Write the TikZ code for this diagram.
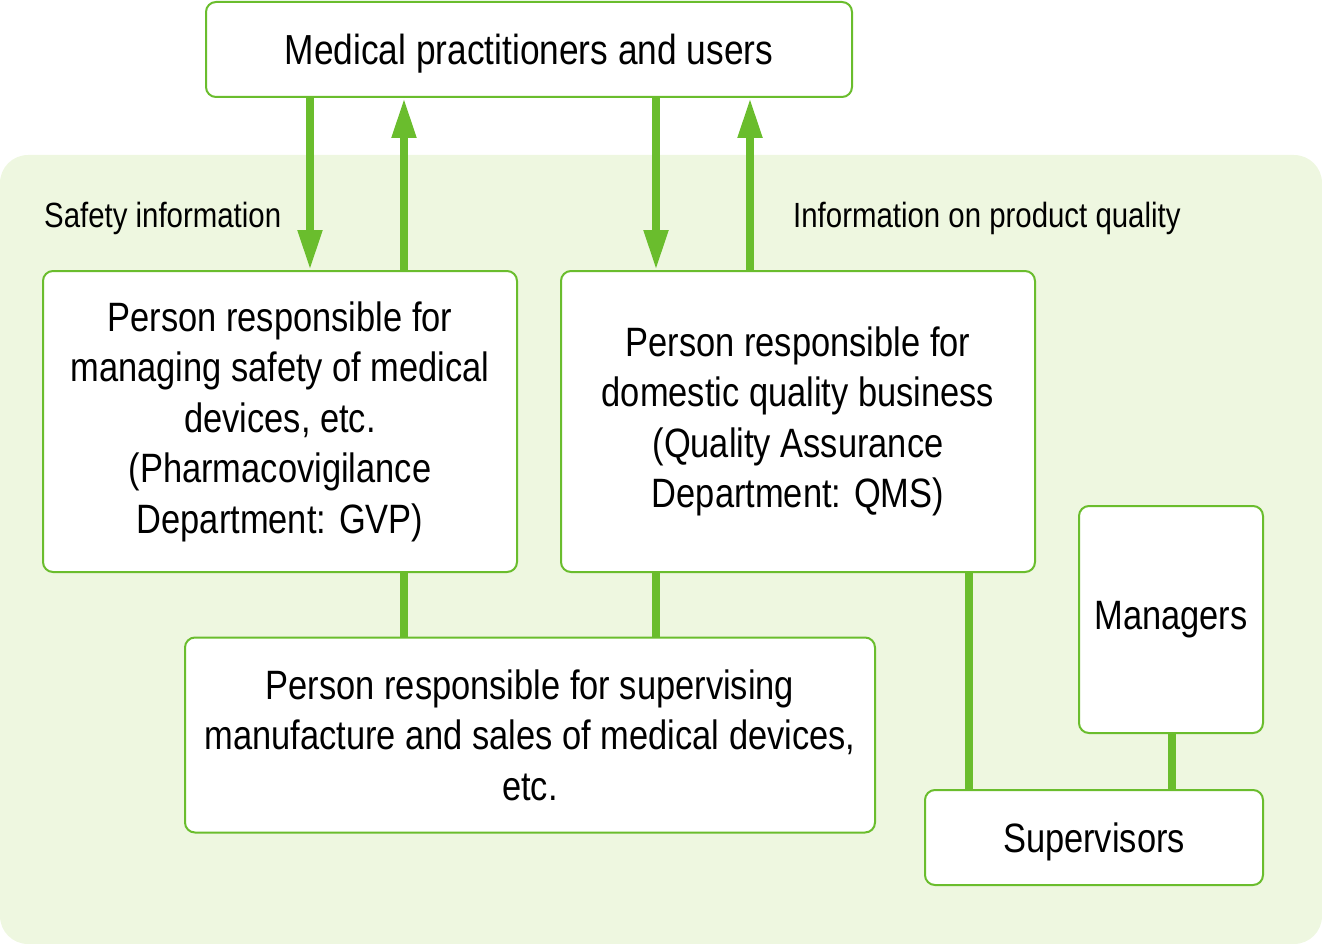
\documentclass[tikz,border=0pt]{standalone}
\usepackage{fontspec}
\setmainfont[FakeStretch=0.84]{Liberation Sans}
\usetikzlibrary{arrows.meta}
\definecolor{gr}{HTML}{6ABD2D}
\definecolor{bg}{HTML}{EEF7E0}
\tikzset{
  box/.style={draw=gr, line width=2pt, fill=white, rounded corners=10pt, align=center, inner sep=0pt,
    font=\fontsize{41}{50.5}\selectfont},
  lbl/.style={anchor=base west, inner sep=0pt, font=\fontsize{35}{40}\selectfont},
  arr/.style={draw=gr, line width=8pt, -{Triangle[length=40pt,width=23pt]}},
  conn/.style={draw=gr, line width=8pt}
}
\begin{document}
\begin{tikzpicture}[x=1pt,y=-1pt]
\useasboundingbox (0,0) rectangle (1322,944);
\fill[bg, rounded corners=28pt] (0,155) rectangle (1322,944);

\node[box, minimum width=646pt, minimum height=95pt, font=\fontsize{42}{50.5}\selectfont, text depth=0pt] (top) at (529,49.5) {Medical practitioners and users};
\node[box, minimum width=474pt, minimum height=301pt] (left) at (280,421.5)
  {Person responsible for\\managing safety of medical\\devices, etc.\\(Pharmacovigilance\\Department: GVP)};
\node[box, minimum width=474pt, minimum height=301pt] (mid) at (798,421.5)
  {Person responsible for\\domestic quality business\\(Quality Assurance\\Department: QMS)};
\node[box, minimum width=690pt, minimum height=195pt] (bot) at (530,735)
  {Person responsible for supervising\\manufacture and sales of medical devices,\\etc.};
\node[box, minimum width=184pt, minimum height=227pt] (mgr) at (1171,619.5) {Managers};
\node[box, minimum width=338pt, minimum height=95pt, text depth=0pt] (sup) at (1094,837.5) {Supervisors};

\node[lbl] (l1) at (44,227) {Safety information};
\node[lbl] (l2) at (793,227) {Information on product quality};

\coordinate (x1) at (310,0);
\coordinate (x2) at (404,0);
\coordinate (x3) at (656,0);
\coordinate (x4) at (750,0);
\coordinate (x5) at (969,0);
\coordinate (x6) at (1172,0);

\draw[arr] (top.south -| x1) -- (left.north -| x1);
\draw[arr] (left.north -| x2) -- (top.south -| x2);
\draw[arr] (top.south -| x3) -- (mid.north -| x3);
\draw[arr] (mid.north -| x4) -- (top.south -| x4);
\draw[conn] (left.south -| x2) -- (bot.north -| x2);
\draw[conn] (mid.south -| x3) -- (bot.north -| x3);
\draw[conn] (mid.south -| x5) -- (sup.north -| x5);
\draw[conn] (mgr.south -| x6) -- (sup.north -| x6);
\end{tikzpicture}
\end{document}
